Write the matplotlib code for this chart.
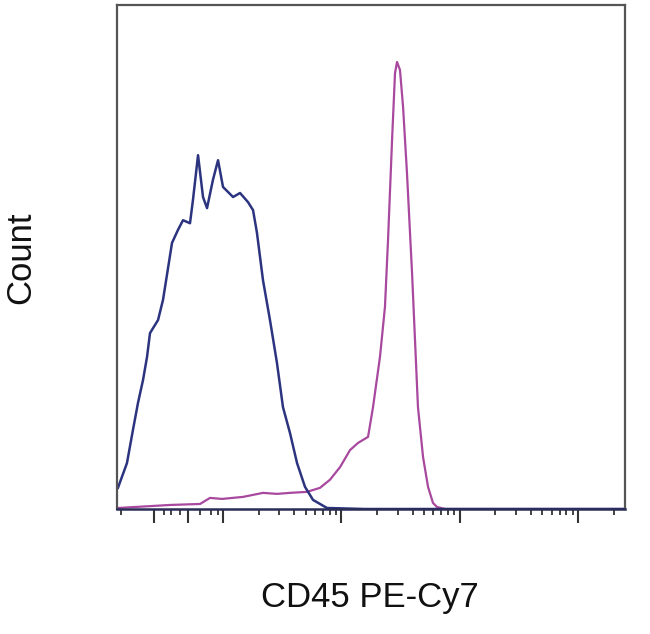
import numpy as np
import matplotlib
matplotlib.use("Agg")
import matplotlib.pyplot as plt

# Fluorescence axis in log10 display units; counts on linear scale (0-100)
blue_x = [1.112, 1.188, 1.239, 1.281, 1.324, 1.358, 1.383, 1.451, 1.493, 1.569, 1.620,
          1.662, 1.721, 1.746, 1.789, 1.831, 1.865, 1.915, 1.958, 2.000, 2.085, 2.144,
          2.211, 2.254, 2.287, 2.338, 2.397, 2.456, 2.507, 2.566, 2.626, 2.693, 2.761,
          2.879, 3.200, 5.398]
blue_y = [4.2, 9.1, 15.7, 21.0, 25.6, 30.2, 34.9, 37.5, 41.5, 52.8, 55.4,
          57.3, 56.7, 61.3, 70.2, 61.9, 59.7, 65.3, 69.2, 63.9, 61.9, 62.7,
          60.9, 59.3, 54.8, 45.4, 37.5, 29.0, 20.2, 15.1, 9.1, 4.4, 1.8,
          0.2, 0.0, 0.0]

pink_x = [1.112, 1.552, 1.806, 1.890, 1.992, 2.169, 2.338, 2.456, 2.566, 2.710, 2.820,
          2.904, 2.989, 3.074, 3.141, 3.183, 3.226, 3.268, 3.327, 3.369, 3.395, 3.429,
          3.454, 3.471, 3.496, 3.522, 3.555, 3.598, 3.623, 3.648, 3.691, 3.733, 3.775,
          3.809, 3.877, 5.398]
pink_y = [0.2, 0.8, 1.0, 2.2, 2.0, 2.4, 3.2, 3.0, 3.2, 3.4, 4.2,
          5.8, 8.3, 11.7, 13.1, 13.7, 14.3, 20.2, 30.2, 40.1, 53.4, 73.2,
          86.5, 88.7, 87.1, 79.8, 66.7, 46.8, 33.5, 20.2, 10.3, 4.4, 1.2,
          0.4, 0.0, 0.0]

major_ticks = [1.417, 1.704, 2.0, 3.0, 4.0, 5.0]
low_minor_ticks = [1.138, 1.501, 1.560, 1.637, 1.806, 1.899, 1.958]
decades = [2, 3, 4, 5]
minor_mults = [2, 3, 4, 5, 6, 7, 8, 9]

x_label = "CD45 PE-Cy7"
y_label = "Count"

plt.rcParams['font.family'] = ['Liberation Sans', 'DejaVu Sans']

fig = plt.figure(figsize=(6.5, 6.34), dpi=100)
ax = fig.add_axes([117/650, 1 - 509/634, 508/650, 504/634])

ax.plot(pink_x, pink_y, color='#a8489e', lw=1.6, solid_joinstyle='round')
ax.plot(blue_x, blue_y, color='#2c3480', lw=1.8, solid_joinstyle='round')

ax.set_xlim(1.104, 5.398)
ax.set_ylim(0, 100)

minor = list(low_minor_ticks)
for d in decades:
    for m in minor_mults:
        v = d + np.log10(m)
        if v <= 5.35:
            minor.append(v)
ax.set_xticks(major_ticks)
ax.set_xticks(minor, minor=True)
ax.set_xticklabels([])
ax.tick_params(axis='x', which='major', direction='out', length=10, width=1.5, color='#333333')
ax.tick_params(axis='x', which='minor', direction='out', length=4.5, width=1.3, color='#333333')
ax.set_yticks([])

for s in ['left', 'top', 'right']:
    ax.spines[s].set_color('#555555')
    ax.spines[s].set_linewidth(1.6)
ax.spines['bottom'].set_color('#2a2d55')
ax.spines['bottom'].set_linewidth(1.8)

fig.text(370/650, 1 - 598/634, x_label, ha='center', va='center', fontsize=25, color='#111111')
fig.text(21/650, 1 - 258/634, y_label, ha='center', va='center', rotation=90, fontsize=25, color='#111111')

fig.savefig("out.png", dpi=100, facecolor='white')
